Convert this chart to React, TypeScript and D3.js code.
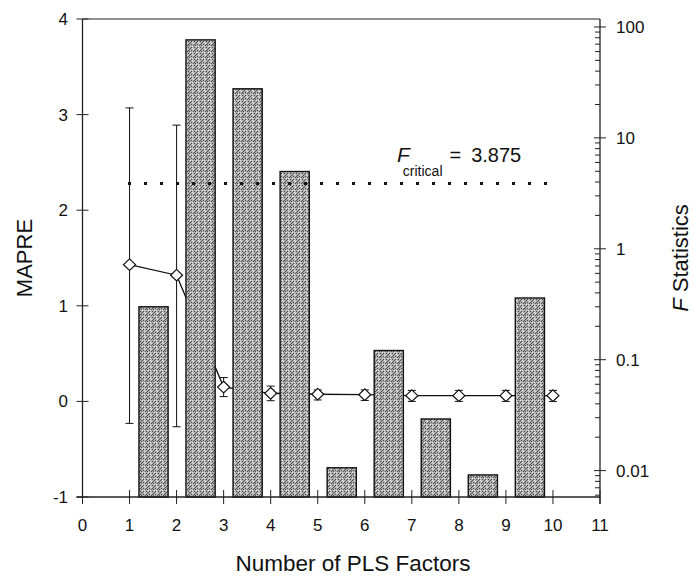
import React from "react";
import * as d3 from "d3";

// ---- data ----
const factors = [1, 2, 3, 4, 5, 6, 7, 8, 9, 10];
const mapre = [1.43, 1.32, 0.15, 0.085, 0.075, 0.07, 0.06, 0.06, 0.06, 0.06];
const mapreLow = [-0.23, -0.265, 0.05, 0.007, 0.015, 0.01, 0.0, 0.0, 0.0, 0.0];
const mapreHigh = [3.07, 2.89, 0.25, 0.16, 0.12, 0.12, 0.115, 0.115, 0.115, 0.115];

const barFactors = [1, 2, 3, 4, 5, 6, 7, 8, 9];
const fStat = [0.3, 76.5, 27.7, 4.97, 0.0106, 0.121, 0.0292, 0.00914, 0.36];
const fCritical = 3.875;

const xTicks = [0, 1, 2, 3, 4, 5, 6, 7, 8, 9, 10, 11];
const yTicks = [-1, 0, 1, 2, 3, 4];
const fTicks = [0.01, 0.1, 1, 10, 100];
const fTickLabels = ["0.01", "0.1", "1", "10", "100"];

const FONT = "'Liberation Sans', Arial, Helvetica, sans-serif";

export default function App() {
  const left = 82.5, right = 600, top = 19, bottom = 497;
  const x = d3.scaleLinear().domain([0, 11]).range([left, right]);
  const y = d3.scaleLinear().domain([-1, 4]).range([bottom, top]);
  const yF = d3.scaleLog().domain([0.00578, 118]).range([bottom, top]);

  const line = d3
    .line<number>()
    .x((_, i) => x(factors[i]))
    .y((d) => y(d));

  const minorF: number[] = [];
  [0.001, 0.01, 0.1, 1, 10].forEach((dec) => {
    for (let k = 2; k <= 9; k++) {
      const v = dec * k;
      if (v >= 0.00578 && v <= 118) minorF.push(v);
    }
  });

  const diamond = (cx: number, cy: number) =>
    `M${cx},${cy - 5.8}L${cx + 6},${cy}L${cx},${cy + 5.8}L${cx - 6},${cy}Z`;

  // deterministic stipple tile
  const stipple = [
    [0, 0], [3, 1], [1, 3], [4, 4], [2, 5], [5, 2], [0, 4], [3, 3], [5, 5], [1, 1], [2, 2], [4, 0],
  ];

  return (
    <svg
      width={694}
      height={576}
      style={{ position: "absolute", left: 0, top: 0, background: "#fff" }}
      fontFamily={FONT}
    >
      <defs>
        <pattern id="stip" width={6} height={6} patternUnits="userSpaceOnUse">
          <rect width={6} height={6} fill="#b0b0b0" />
          {stipple.map(([a, b], i) => (
            <rect key={i} x={a} y={b} width={1} height={1} fill={i % 3 === 0 ? "#e4e4e4" : "#4a4a4a"} />
          ))}
        </pattern>
      </defs>
      <rect width={694} height={576} fill="#fff" />

      {/* connecting line (behind bars) */}
      <path d={line(mapre) || ""} fill="none" stroke="#111" strokeWidth={1.3} />

      {/* F-stat bars */}
      {barFactors.map((f, i) => (
        <rect
          key={f}
          x={x(f + 0.2)}
          y={yF(fStat[i])}
          width={x(f + 0.82) - x(f + 0.2)}
          height={bottom - yF(fStat[i])}
          fill="url(#stip)"
          stroke="#111"
          strokeWidth={1.4}
        />
      ))}

      {/* error bars */}
      {factors.map((f, i) => (
        <g key={f} stroke="#111" strokeWidth={1}>
          <line x1={x(f)} x2={x(f)} y1={y(mapreLow[i])} y2={y(mapreHigh[i])} />
          <line x1={x(f) - 4} x2={x(f) + 4} y1={y(mapreLow[i])} y2={y(mapreLow[i])} />
          <line x1={x(f) - 4} x2={x(f) + 4} y1={y(mapreHigh[i])} y2={y(mapreHigh[i])} />
        </g>
      ))}

      {/* diamonds */}
      {factors.map((f, i) => (
        <path key={f} d={diamond(x(f), y(mapre[i]))} fill="#fff" stroke="#111" strokeWidth={1.2} />
      ))}

      {/* F critical dotted line */}
      <line
        x1={x(1) - 1.5}
        x2={x(10)}
        y1={yF(fCritical)}
        y2={yF(fCritical)}
        stroke="#111"
        strokeWidth={3}
        strokeDasharray="3,13"
      />
      <text x={397} y={162} fontSize={20} fill="#111">
        <tspan fontStyle="italic" fontSize={21}>F</tspan>
        <tspan fontSize={14} dy={14} dx={-7}>critical</tspan>
        <tspan dy={-14} dx={7}>=</tspan>
        <tspan dx={10}>3.875</tspan>
      </text>

      {/* frame */}
      <line x1={left} x2={right} y1={top} y2={top} stroke="#222" strokeWidth={1.2} />
      <line x1={left} x2={left} y1={top} y2={bottom} stroke="#222" strokeWidth={1.3} />
      <line x1={right} x2={right} y1={top} y2={bottom + 7} stroke="#222" strokeWidth={1.3} />
      <line x1={left - 6} x2={right} y1={bottom} y2={bottom} stroke="#222" strokeWidth={1.3} />

      {/* x axis ticks */}
      {xTicks.map((t) => (
        <g key={t}>
          <line x1={x(t)} x2={x(t)} y1={bottom - 7} y2={bottom + 7} stroke="#222" strokeWidth={1} />
          <text x={x(t)} y={531} fontSize={17} textAnchor="middle" fill="#111">
            {t}
          </text>
        </g>
      ))}

      {/* left axis ticks */}
      {yTicks.map((t) => (
        <g key={t}>
          <line x1={left - 6} x2={left + 6} y1={y(t)} y2={y(t)} stroke="#222" strokeWidth={1} />
          <text x={68} y={y(t) + 6} fontSize={17} textAnchor="end" fill="#111">
            {t}
          </text>
        </g>
      ))}

      {/* right log axis */}
      {minorF.map((v, i) => (
        <line key={i} x1={right - 5} x2={right} y1={yF(v)} y2={yF(v)} stroke="#222" strokeWidth={1} />
      ))}
      {fTicks.map((t, i) => (
        <g key={t}>
          <line x1={right - 6} x2={right + 6} y1={yF(t)} y2={yF(t)} stroke="#222" strokeWidth={1} />
          <text x={616} y={yF(t) + 6} fontSize={17} textAnchor="start" fill="#111">
            {fTickLabels[i]}
          </text>
        </g>
      ))}

      {/* axis titles */}
      <text x={353} y={571} fontSize={22.5} textAnchor="middle" fill="#111">
        Number of PLS Factors
      </text>
      <text
        transform="translate(32,258) rotate(-90)"
        fontSize={22}
        textAnchor="middle"
        fill="#111"
      >
        MAPRE
      </text>
      <text
        transform="translate(688,258) rotate(-90)"
        fontSize={22}
        textAnchor="middle"
        fill="#111"
      >
        <tspan fontStyle="italic">F</tspan> Statistics
      </text>
    </svg>
  );
}
